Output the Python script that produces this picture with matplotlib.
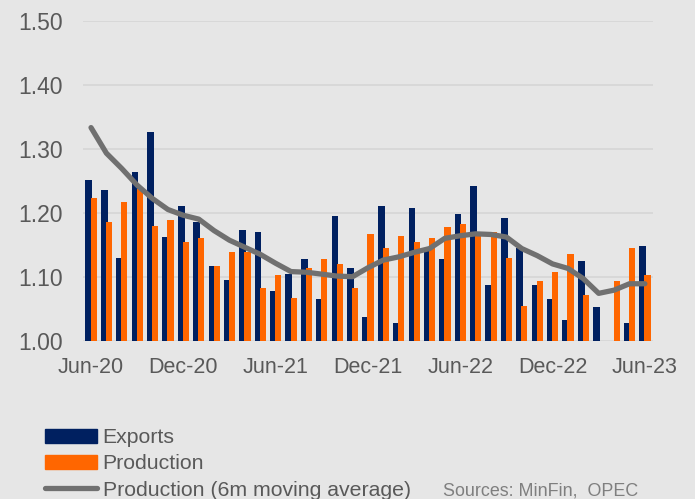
import numpy as np
import matplotlib.pyplot as plt
from matplotlib.patches import Patch
from matplotlib.lines import Line2D

plt.rcParams['font.family'] = ['Liberation Sans', 'DejaVu Sans']

# monthly data, Jun-20 .. Jun-23
months = ['Jun-20', 'Jul-20', 'Aug-20', 'Sep-20', 'Oct-20', 'Nov-20', 'Dec-20',
          'Jan-21', 'Feb-21', 'Mar-21', 'Apr-21', 'May-21', 'Jun-21',
          'Jul-21', 'Aug-21', 'Sep-21', 'Oct-21', 'Nov-21', 'Dec-21',
          'Jan-22', 'Feb-22', 'Mar-22', 'Apr-22', 'May-22', 'Jun-22',
          'Jul-22', 'Aug-22', 'Sep-22', 'Oct-22', 'Nov-22', 'Dec-22',
          'Jan-23', 'Feb-23', 'Mar-23', 'Apr-23', 'May-23', 'Jun-23']
exports = [1.251, 1.235, 1.130, 1.264, 1.326, 1.162, 1.210,
           1.185, 1.117, 1.095, 1.173, 1.170, 1.077,
           1.105, 1.127, 1.065, 1.195, 1.114, 1.037,
           1.211, 1.027, 1.208, 1.145, 1.127, 1.198,
           1.242, 1.087, 1.192, 1.145, 1.087, 1.065,
           1.033, 1.124, 1.052, 1.000, 1.027, 1.148]
production = [1.223, 1.185, 1.217, 1.237, 1.179, 1.189, 1.154,
              1.161, 1.117, 1.139, 1.138, 1.083, 1.102,
              1.067, 1.114, 1.127, 1.120, 1.083, 1.167,
              1.145, 1.164, 1.155, 1.161, 1.177, 1.183,
              1.164, 1.170, 1.130, 1.055, 1.093, 1.108,
              1.136, 1.071, 1.000, 1.093, 1.145, 1.102]
prod_ma = [1.333, 1.293, 1.269, 1.243, 1.222, 1.205, 1.196,
           1.190, 1.172, 1.157, 1.146, 1.135, 1.121,
           1.108, 1.107, 1.104, 1.101, 1.100, 1.114,
           1.126, 1.131, 1.138, 1.144, 1.160, 1.164,
           1.167, 1.166, 1.162, 1.144, 1.133, 1.120,
           1.113, 1.097, 1.074, 1.079, 1.089, 1.089]
tick_labels = ['Jun-20', 'Dec-20', 'Jun-21', 'Dec-21', 'Jun-22', 'Dec-22', 'Jun-23']

bg = '#e6e6e6'
navy = '#002060'
orange = '#ff6600'
grey_line = '#707070'
txt = '#595959'

x = np.arange(len(months))
base = 1.0

fig = plt.figure(figsize=(6.95, 4.99), dpi=100, facecolor=bg)
ax = fig.add_axes([0.1199, 0.3172, 0.819, 0.6413], facecolor=bg)

ax.bar(x - 0.14, np.array(exports) - base, bottom=base, width=0.44, color=navy, zorder=2)
ax.bar(x + 0.17, np.array(production) - base, bottom=base, width=0.40, color=orange, zorder=3)
ax.plot(x, prod_ma, color=grey_line, lw=3.8, solid_capstyle='round', zorder=4)

ax.set_xlim(-0.5, len(months) - 0.5)
ax.set_ylim(1.0, 1.5)
ax.set_yticks(np.arange(1.0, 1.51, 0.1))
ax.set_yticklabels(['%.2f' % v for v in np.arange(1.0, 1.51, 0.1)])
ax.set_xticks([months.index(m) for m in tick_labels])
ax.set_xticklabels(tick_labels)
ax.grid(axis='y', color='#d6d6d6', lw=1.2, zorder=0)
ax.set_axisbelow(True)
for s in ax.spines.values():
    s.set_visible(False)
ax.tick_params(axis='both', length=0, colors=txt)
ax.tick_params(axis='y', pad=14.5, labelsize=16.5)
ax.tick_params(axis='x', pad=12, labelsize=15.5)

handles = [Patch(color=navy), Patch(color=orange),
           Line2D([], [], color=grey_line, lw=3.8, solid_capstyle='round')]
labels = ['Exports', 'Production', 'Production (6m moving average)']
leg = fig.legend(handles, labels, loc='upper left', bbox_to_anchor=(0.0647, 0.142),
                 frameon=False, fontsize=15.3, handlelength=2.45, handleheight=0.63,
                 handletextpad=0.26, labelspacing=0.34, borderaxespad=0, borderpad=0)
for t in leg.get_texts():
    t.set_color(txt)

fig.text(0.637, 0.0066, 'Sources: MinFin,  OPEC', fontsize=12.9, color='#7f7f7f', va='baseline')

fig.savefig('out.png', dpi=100, facecolor=bg)
